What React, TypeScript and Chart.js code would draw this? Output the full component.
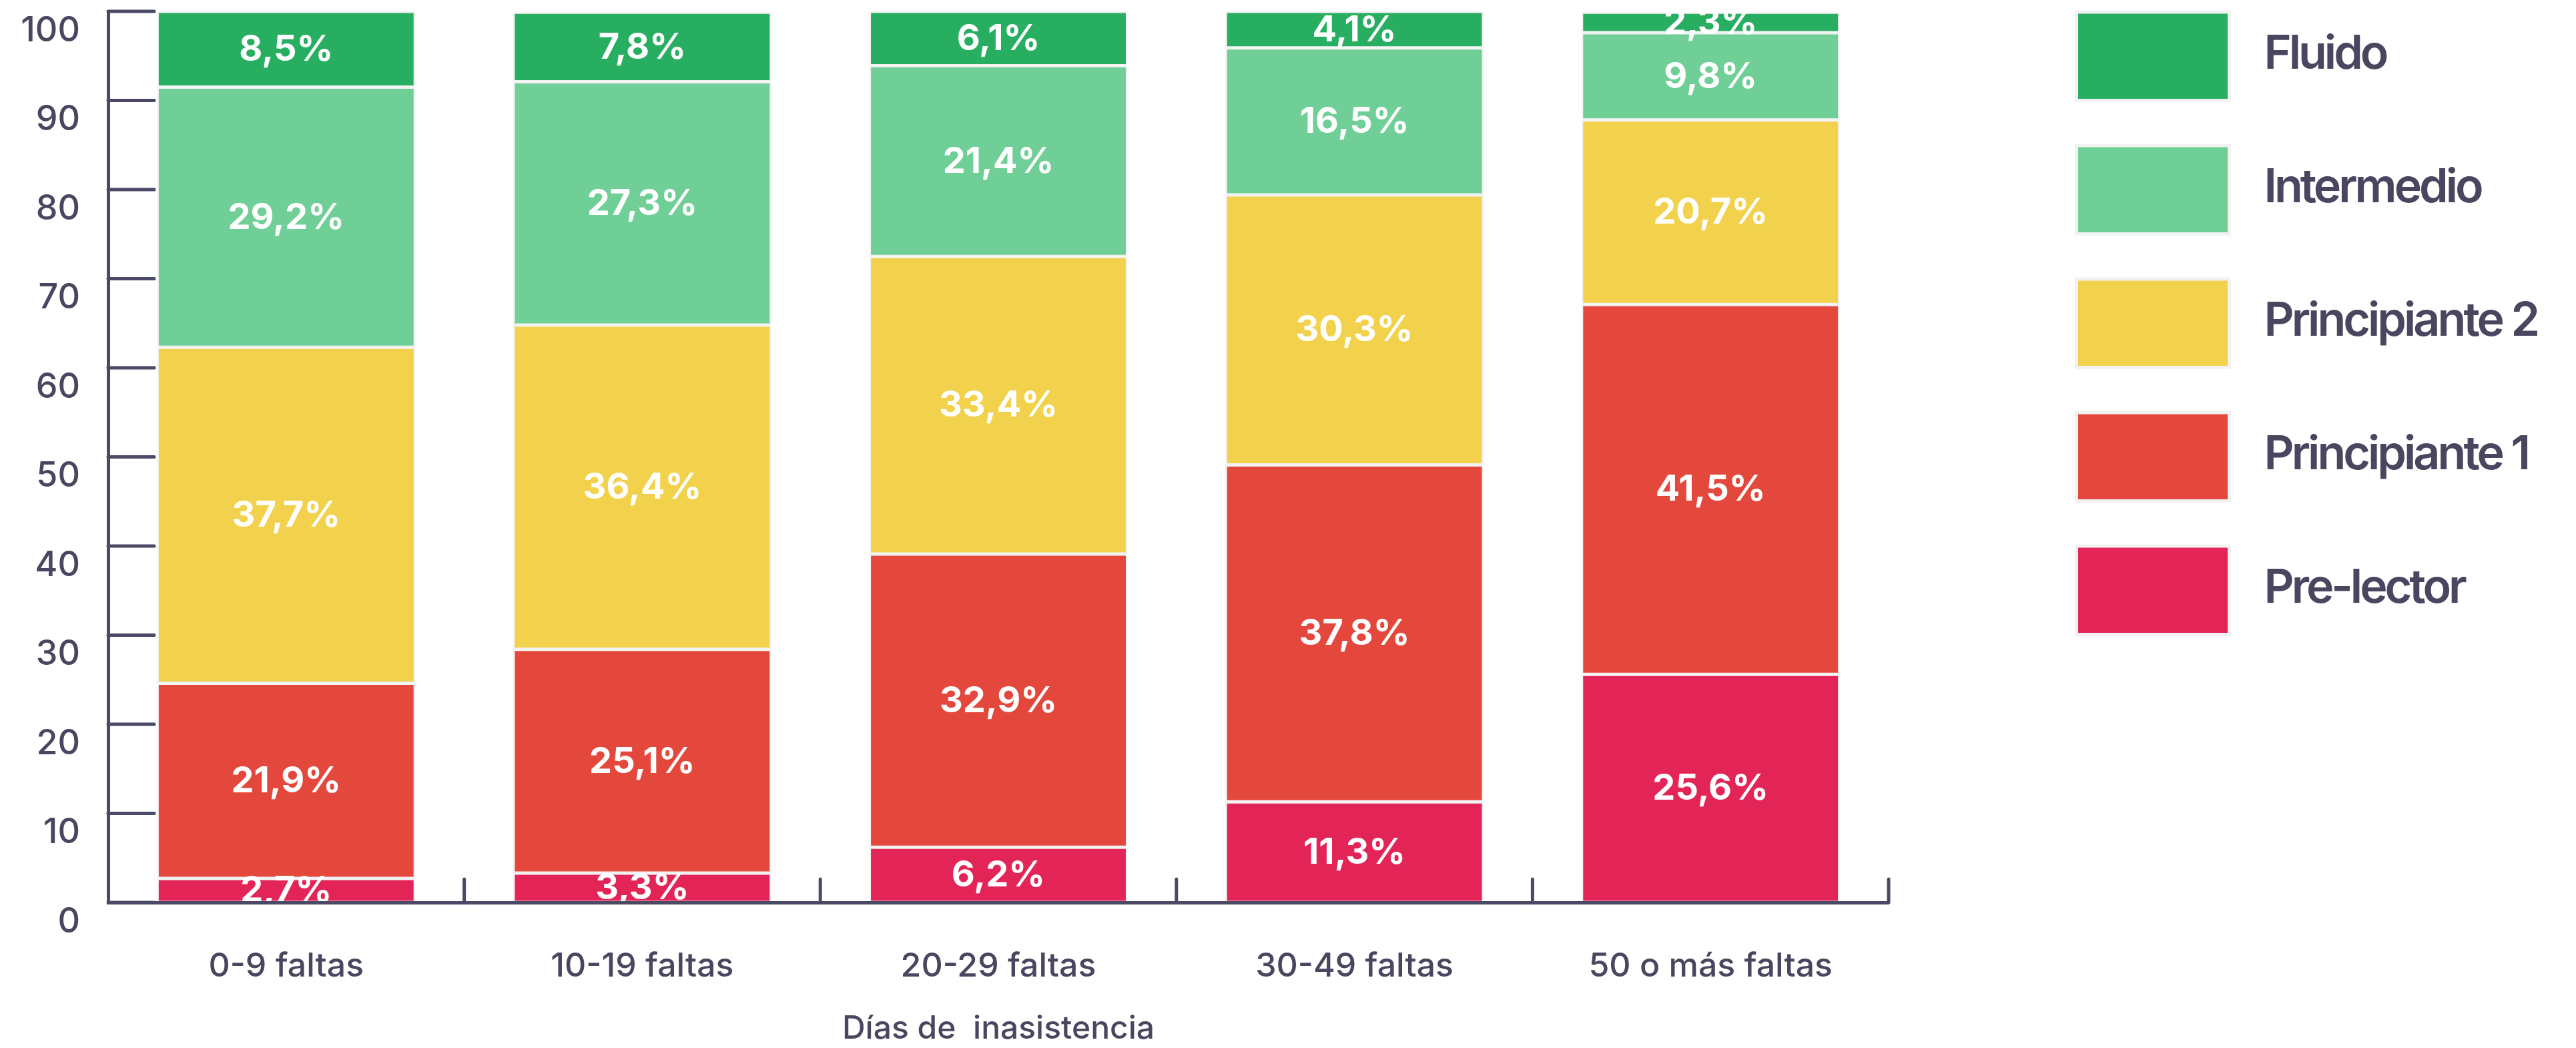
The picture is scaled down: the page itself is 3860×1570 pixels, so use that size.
import React, { useEffect, useRef } from 'react';
import { Chart, registerables } from 'chart.js';

Chart.register(...registerables);

// ---------- data ----------
const categories = ['0-9 faltas', '10-19 faltas', '20-29 faltas', '30-49 faltas', '50 o más faltas'];
const seriesNames = ['Pre-lector', 'Principiante 1', 'Principiante 2', 'Intermedio', 'Fluido'];
const preLector = [2.7, 3.3, 6.2, 11.3, 25.6];
const principiante1 = [21.9, 25.1, 32.9, 37.8, 41.5];
const principiante2 = [37.7, 36.4, 33.4, 30.3, 20.7];
const intermedio = [29.2, 27.3, 21.4, 16.5, 9.8];
const fluido = [8.5, 7.8, 6.1, 4.1, 2.3];
const seriesValues = [preLector, principiante1, principiante2, intermedio, fluido];
const seriesColors = ['#E32457', '#E4483C', '#F2D24C', '#6FCF97', '#27AE60'];
const yMin = 0;
const yMax = 100;
const yStep = 10;
const xAxisTitle = 'Días de  inasistencia';

// ---------- styles ----------
const TEXT_COLOR = '#48475F';
const AXIS_COLOR = '#4A4A66';
const SEG_BORDER = '#F2F2F2';
const FONT = 'Inter';

const fmt = (v: number) => v.toFixed(1).replace('.', ',') + '%';

const innerTicksPlugin = {
  id: 'innerTicks',
  afterDraw(chart: any) {
    const { ctx, chartArea, scales } = chart;
    const xs = scales.x;
    const ys = scales.y;
    ctx.save();
    ctx.strokeStyle = AXIS_COLOR;
    ctx.lineWidth = 5;
    ctx.lineCap = 'round';
    ys.ticks.forEach((t: any) => {
      const py = ys.getPixelForValue(t.value);
      ctx.beginPath();
      ctx.moveTo(chartArea.left, py);
      ctx.lineTo(chartArea.left + 69, py);
      ctx.stroke();
    });
    const half = (xs.getPixelForValue(1) - xs.getPixelForValue(0)) / 2;
    categories.forEach((_, i) => {
      const px = xs.getPixelForValue(i) + half;
      ctx.beginPath();
      ctx.moveTo(px, chartArea.bottom);
      ctx.lineTo(px, chartArea.bottom - 35);
      ctx.stroke();
    });
    ctx.restore();
  },
};

const segmentLabelsPlugin = {
  id: 'segmentLabels',
  afterDatasetsDraw(chart: any) {
    const { ctx } = chart;
    ctx.save();
    ctx.fillStyle = '#FFFFFF';
    ctx.font = `700 54px ${FONT}`;
    ctx.textAlign = 'center';
    ctx.textBaseline = 'middle';
    chart.data.datasets.forEach((ds: any, di: number) => {
      const meta = chart.getDatasetMeta(di);
      meta.data.forEach((el: any, i: number) => {
        const yc = (el.y + el.base) / 2;
        ctx.fillText(fmt(ds.data[i]), el.x, yc + 1);
      });
    });
    ctx.restore();
  },
};

const sideLegendPlugin = {
  id: 'sideLegend',
  afterDraw(chart: any) {
    const { ctx, chartArea } = chart;
    const boxLeft = chartArea.right + 281.5;
    const boxTop0 = chartArea.top + 1;
    const boxW = 229;
    const boxH = 132.5;
    const step = 200;
    ctx.save();
    const order = chart.data.datasets.map((_: any, i: number) => i).reverse();
    order.forEach((di: number, k: number) => {
      const ds = chart.data.datasets[di];
      const top = boxTop0 + k * step;
      ctx.beginPath();
      ctx.rect(boxLeft, top, boxW, boxH);
      ctx.fillStyle = ds.backgroundColor;
      ctx.fill();
      ctx.lineWidth = 5;
      ctx.strokeStyle = SEG_BORDER;
      ctx.stroke();
      ctx.fillStyle = TEXT_COLOR;
      ctx.font = `600 70px ${FONT}`;
      (ctx as any).letterSpacing = '-4px';
      ctx.textAlign = 'left';
      ctx.textBaseline = 'middle';
      ctx.fillText(ds.label, boxLeft + 281, top + boxH / 2 - 2);
      (ctx as any).letterSpacing = '0px';
    });
    ctx.restore();
  },
};

export default function App() {
  const canvasRef = useRef<HTMLCanvasElement | null>(null);

  useEffect(() => {
    if (!canvasRef.current) return;
    Chart.defaults.font.family = FONT;
    const chart = new Chart(canvasRef.current, {
      type: 'bar',
      data: {
        labels: categories,
        datasets: seriesNames.map((name, i) => ({
          label: name,
          data: seriesValues[i],
          backgroundColor: seriesColors[i],
          borderColor: SEG_BORDER,
          borderWidth: 2.5,
          borderSkipped: false,
          barPercentage: 0.725,
          categoryPercentage: 1,
        })),
      },
      options: {
        animation: false,
        responsive: true,
        maintainAspectRatio: false,
        layout: { padding: { top: 17, right: 1030, bottom: 0, left: 0 } },
        plugins: {
          legend: { display: false },
          tooltip: { enabled: false },
        },
        scales: {
          x: {
            stacked: true,
            offset: true,
            grid: { display: false, drawTicks: false },
            border: { display: true, color: AXIS_COLOR, width: 5, z: 1 },
            ticks: {
              color: TEXT_COLOR,
              font: { family: FONT, size: 50, weight: '500' },
              padding: 66,
              autoSkip: false,
              minRotation: 0,
              maxRotation: 0,
            },
            title: {
              display: true,
              text: xAxisTitle,
              color: TEXT_COLOR,
              font: { family: FONT, size: 48, weight: '500' },
              padding: { top: 33, bottom: 0 },
            },
            afterFit: (scale: any) => {
              scale.height = 218;
              scale.paddingLeft = 0;
              scale.paddingRight = 0;
            },
          },
          y: {
            stacked: true,
            min: yMin,
            max: yMax,
            grid: { display: false, drawTicks: false },
            border: { display: true, color: AXIS_COLOR, width: 5, z: 1 },
            ticks: {
              stepSize: yStep,
              color: TEXT_COLOR,
              font: { family: FONT, size: 52, weight: '500', lineHeight: 0.5 },
              padding: 42,
              labelOffset: 29,
            },
            afterFit: (scale: any) => {
              scale.width = 162;
              scale.paddingTop = 0;
              scale.paddingBottom = 0;
            },
          },
        },
      },
      plugins: [segmentLabelsPlugin, innerTicksPlugin, sideLegendPlugin],
    } as any);
    return () => chart.destroy();
  }, []);

  return (
    <div style={{ position: 'fixed', left: 0, top: 0, width: 3860, height: 1570, background: '#FFFFFF' }}>
      <canvas ref={canvasRef} />
    </div>
  );
}
